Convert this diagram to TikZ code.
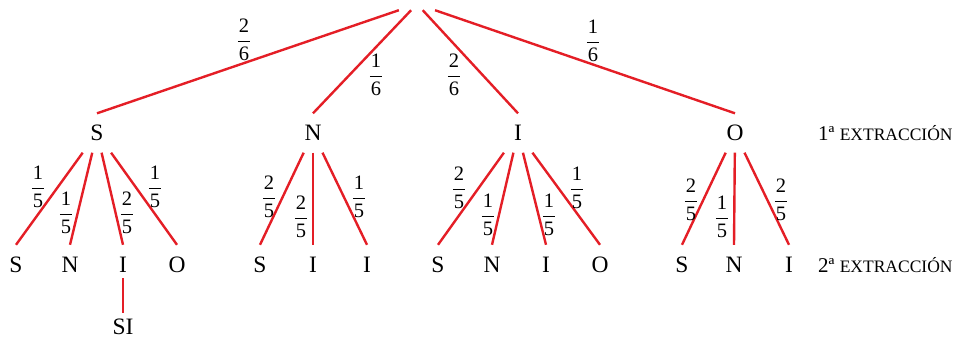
\documentclass[tikz,border=0pt]{standalone}
\usepackage{fontspec}
\setmainfont{Liberation Serif}
\usepackage{amsmath}
\definecolor{treered}{RGB}{228,30,38}
\newcommand{\pfrac}[2]{$\genfrac{}{}{1pt}{0}{\text{\kern1pt #1\kern1pt}}{\text{\kern1pt #2\kern1pt}}$}
\newcommand{\extr}{{\fontsize{17.5}{20}\selectfont EXTRACCIÓN}}
\begin{document}
\begin{tikzpicture}[x=1pt,y=-1pt,
  lvl/.style={inner sep=0pt, minimum width=36pt, minimum height=39pt, font=\fontsize{23.5}{27}\selectfont},
  leaf/.style={inner sep=0pt, minimum width=36pt, minimum height=40pt, font=\fontsize{23.5}{27}\selectfont},
  edge/.style={draw=treered, line width=2.4pt},
  prob/.style={inner sep=0pt, font=\fontsize{20.5}{24}\selectfont},
  lab/.style={anchor=west, inner sep=0pt, font=\fontsize{21}{25}\selectfont}]
\useasboundingbox (0,0) rectangle (963,338);
% root
\node[inner sep=0pt, minimum width=50pt, minimum height=12pt] (root) at (417,4) {};
% level 1
\node[lvl] (S) at (97,133) {S};
\node[lvl] (N) at (313,133) {N};
\node[lvl] (I) at (518,133) {I};
\node[lvl] (O) at (735,133) {O};
% level 2
\node[leaf] (SS) at (16,265) {S};
\node[leaf] (SN) at (70,265) {N};
\node[leaf] (SI2) at (123,265) {I};
\node[leaf] (SO) at (177,265) {O};
\node[leaf] (NS) at (260,265) {S};
\node[leaf] (NI1) at (313,265) {I};
\node[leaf] (NI2) at (367,265) {I};
\node[leaf] (IS) at (438,265) {S};
\node[leaf] (IN) at (492,265) {N};
\node[leaf] (II) at (546,265) {I};
\node[leaf] (IO) at (600,265) {O};
\node[leaf] (OS) at (682,265) {S};
\node[leaf] (ON) at (734,265) {N};
\node[leaf] (OI) at (789,265) {I};
\node[leaf, minimum height=28pt] (SI) at (123,327) {SI};
% edges root
\foreach \c in {S,N,I,O} \draw[edge] (root) -- (\c.north);
% edges level 1 -> 2
\foreach \c in {SS,SN,SI2,SO} \draw[edge] (S) -- (\c.north);
\foreach \c in {NS,NI1,NI2} \draw[edge] (N) -- (\c.north);
\foreach \c in {IS,IN,II,IO} \draw[edge] (I) -- (\c.north);
\foreach \c in {OS,ON,OI} \draw[edge] (O) -- (\c.north);
\draw[edge, shorten <=-7pt] (SI2.south) -- (SI.north);
% probabilities
\node[prob] (p1) at (244,40) {\pfrac{2}{6}};
\node[prob] (p2) at (376,75) {\pfrac{1}{6}};
\node[prob] (p3) at (454,75) {\pfrac{2}{6}};
\node[prob] (p4) at (593,41) {\pfrac{1}{6}};
\node[prob] (q1) at (38,187) {\pfrac{1}{5}};
\node[prob] (q2) at (66,213) {\pfrac{1}{5}};
\node[prob] (q3) at (127,213) {\pfrac{2}{5}};
\node[prob] (q4) at (155,187) {\pfrac{1}{5}};
\node[prob] (r1) at (269,197) {\pfrac{2}{5}};
\node[prob] (r2) at (301,217) {\pfrac{2}{5}};
\node[prob] (r3) at (359,197) {\pfrac{1}{5}};
\node[prob] (s1) at (459,188) {\pfrac{2}{5}};
\node[prob] (s2) at (488,215) {\pfrac{1}{5}};
\node[prob] (s3) at (549,215) {\pfrac{1}{5}};
\node[prob] (s4) at (577,188) {\pfrac{1}{5}};
\node[prob] (t1) at (691,200) {\pfrac{2}{5}};
\node[prob] (t2) at (722,217) {\pfrac{1}{5}};
\node[prob] (t3) at (781,200) {\pfrac{2}{5}};
% side labels
\node[lab] (L1) at (818,133) {1ª \extr};
\node[lab] (L2) at (818,265) {2ª \extr};
\end{tikzpicture}
\end{document}
